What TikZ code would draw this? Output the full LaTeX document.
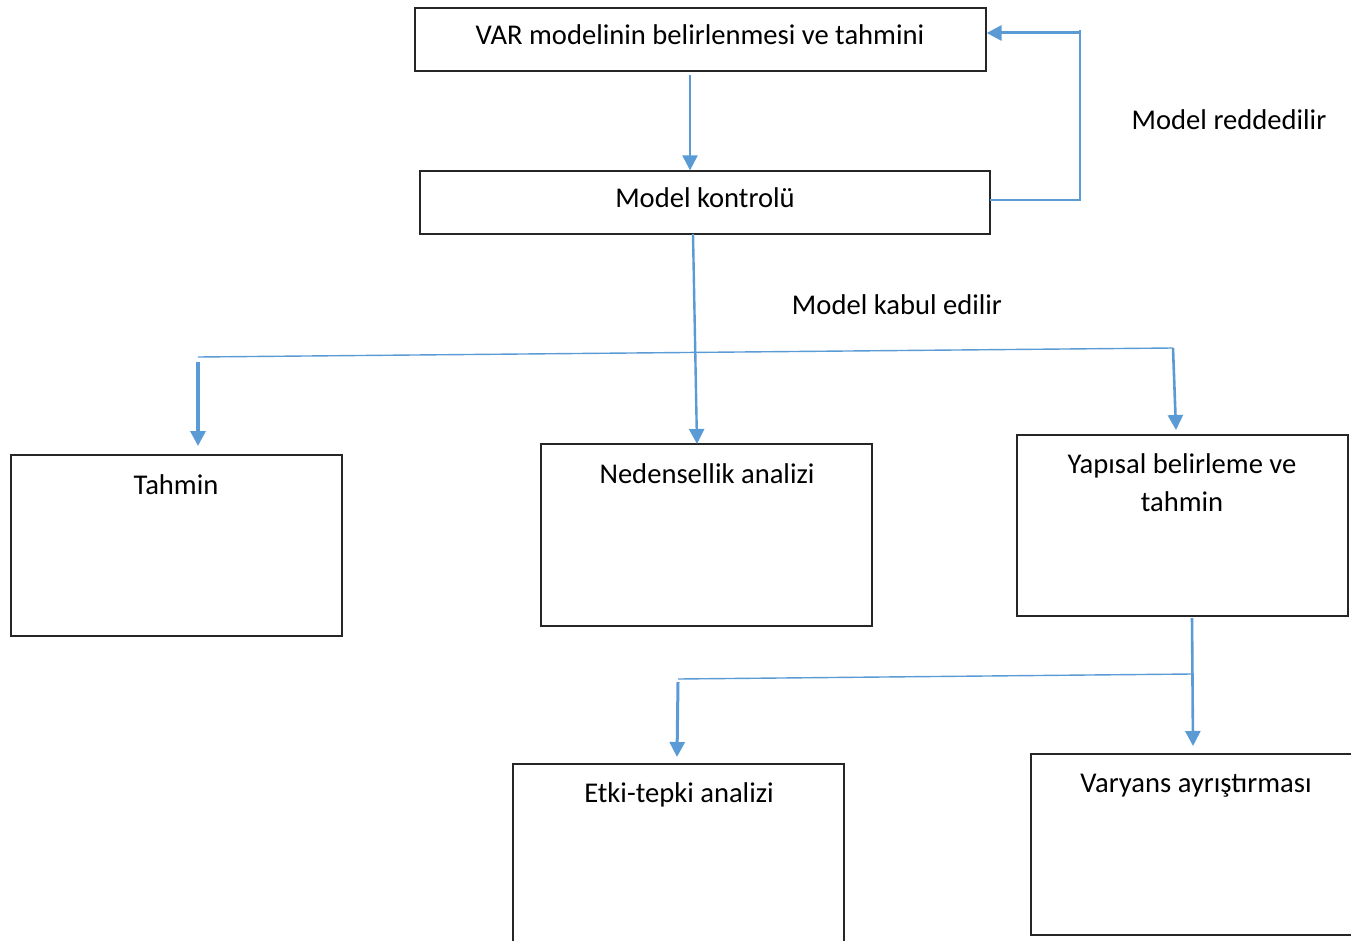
\documentclass[tikz,border=0pt]{standalone}
\usepackage{fontspec}
\setmainfont{Carlito}
\usetikzlibrary{arrows.meta}
\definecolor{ablue}{HTML}{5B9BD5}
\tikzset{
  box/.style={draw=black!85, line width=1.3pt, inner sep=0pt, minimum width=331pt, minimum height=181pt},
  lbl/.style={font=\fontsize{28.6}{34}\selectfont, inner sep=0pt, anchor=base},
  thinline/.style={draw=ablue, line width=1.4pt},
  arr/.style={draw=ablue, line width=#1, -{Triangle[width=15pt,length=15pt]}},
  arr/.default=3pt
}
\begin{document}
\begin{tikzpicture}[x=1pt,y=-1pt]
\useasboundingbox (0,0) rectangle (1351,941);
\clip (0,0) rectangle (1351,941);
% boxes
\node[box, minimum width=571pt, minimum height=63pt] (b1) at (700.5,39.5) {};
\node[box, minimum width=570pt, minimum height=63pt] (b2) at (705,202.5) {};
\node[box] (tah) at (176.5,545.5) {};
\node[box, minimum height=182pt] (ned) at (706.5,535) {};
\node[box] (yap) at (1182.5,525.5) {};
\node[box] (etk) at (678.5,854.5) {};
\node[box] (var) at (1196.5,844.5) {};
% texts
\node[lbl] (t1) at (700,45) {VAR modelinin belirlenmesi ve tahmini};
\node[lbl] (t2) at (705,208) {Model kontrolü};
\node[lbl] (t3) at (1229,130) {Model reddedilir};
\node[lbl] (t4) at (897,314) {Model kabul edilir};
\node[lbl] (t5) at (176,494) {Tahmin};
\node[lbl] (t6) at (707,483) {Nedensellik analizi};
\node[lbl] (t7) at (1182,473) {Yapısal belirleme ve};
\node[lbl] (t8) at (1182,511) {tahmin};
\node[lbl] (t9) at (679,802) {Etki-tepki analizi};
\node[lbl] (t10) at (1196,792) {Varyans ayrıştırması};
% coordinates
\coordinate (a1s) at (690,75);
\coordinate (fb1) at (990,200);
\coordinate (fb2) at (1080,200);
\coordinate (fb3) at (1080,30);
\coordinate (fb4) at (1080,33);
\coordinate (c1) at (693,234);
\coordinate (h1) at (198,357);
\coordinate (h2) at (1173,348);
\coordinate (h1a) at (198,362);
\coordinate (y1) at (1192,618);
\coordinate (y2) at (1192,674);
\coordinate (e1) at (678,679);
\coordinate (e1a) at (678,682);
% connectors
\draw[arr=2.4pt] (a1s) -- (b2.north -| a1s);
\draw[thinline] (fb1) -- (fb2) -- (fb3);
\draw[arr=3pt] (fb4) -- (b1.east |- fb4);
\draw[arr=2.4pt] (c1) -- (697,444);
\draw[thinline] (h1) -- (h2);
\draw[arr=3.3pt] (h1a) -- (198,446);
\draw[arr=2.6pt] (h2) -- (1176,430);
\draw[arr=2.6pt] (y1) -- (1193,746);
\draw[thinline] (y2) -- (e1);
\draw[arr=3pt] (e1a) -- (677,757);
\end{tikzpicture}
\end{document}
